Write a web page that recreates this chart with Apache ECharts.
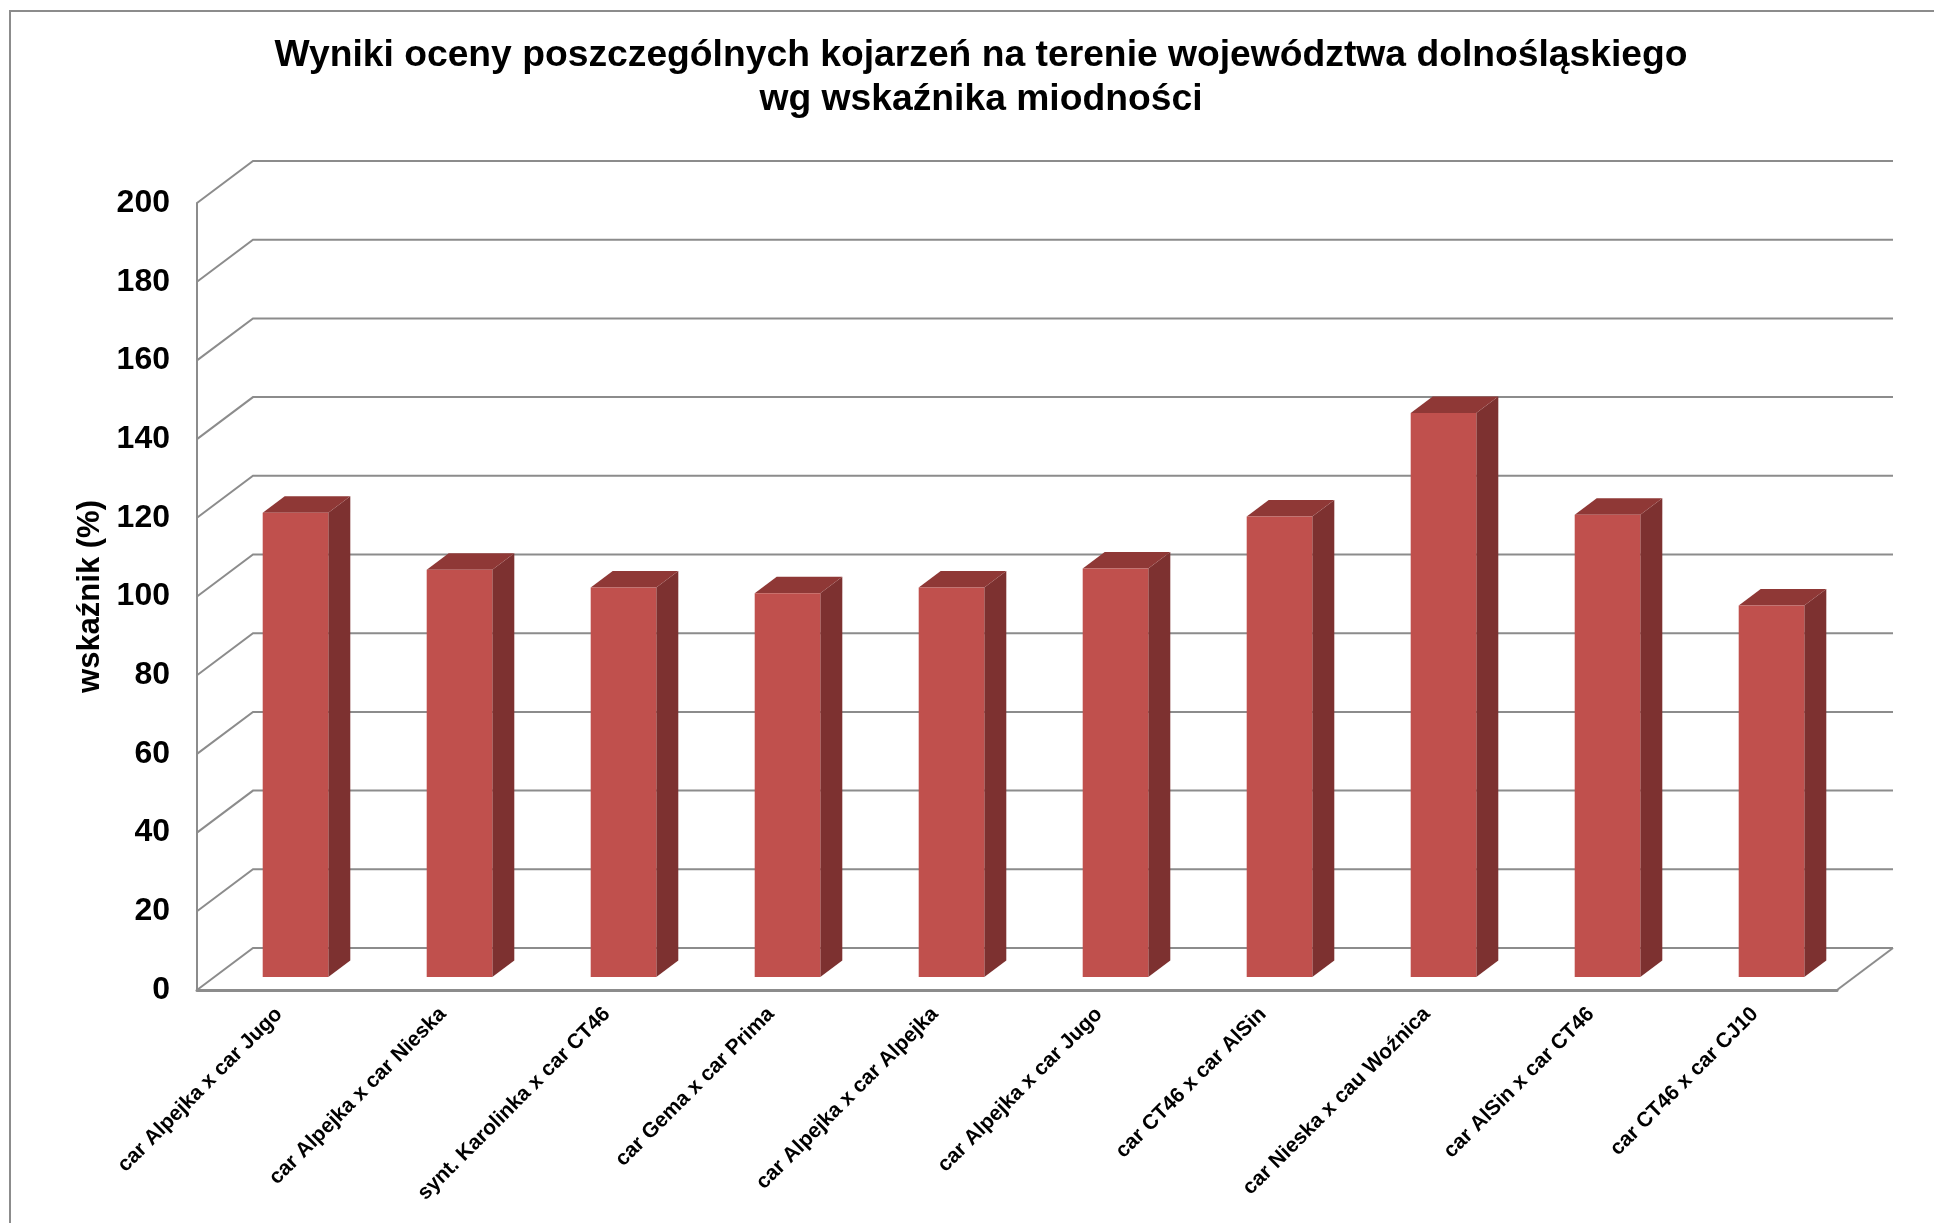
<!DOCTYPE html>
<html>
<head>
<meta charset="utf-8">
<title>wskaznik miodnosci</title>
<style>
  html, body { margin: 0; padding: 0; background: #fff; }
  #main { width: 1934px; height: 1223px; }
</style>
<script src="https://cdn.jsdelivr.net/npm/echarts@6/dist/echarts.min.js"></script>
</head>
<body>
<div id="main"></div>
<script>
const titleText = 'Wyniki oceny poszczególnych kojarzeń na terenie województwa dolnośląskiego\nwg wskaźnika miodności';
const yName = 'wskaźnik (%)';
const categories = [
  'car Alpejka x car Jugo',
  'car Alpejka x car Nieska',
  'synt. Karolinka x car CT46',
  'car Gema x car Prima',
  'car Alpejka x car Alpejka',
  'car Alpejka x car Jugo',
  'car CT46 x car AlSin',
  'car Nieska x cau Woźnica',
  'car AlSin x car CT46',
  'car CT46 x car CJ10'
];
const values = [118, 103.5, 99, 97.5, 99, 103.8, 117, 143.3, 117.5, 94.4];
const yTicks = [0, 20, 40, 60, 80, 100, 120, 140, 160, 180, 200];

const font = '"Liberation Sans", Arial, sans-serif';
const gridColor = '#8c8c8c';
// fake 3D: how far the back wall sits behind the axis plane, and the bars' own depth
const wallDx = 56, wallDy = -42;
const barShiftX = 16.5, barShiftY = -13;
const barDx = 22, barDy = -16.5;

const chart = echarts.init(document.getElementById('main'), null, { renderer: 'canvas' });

// back wall lines, with the slanted bit running back from the axis
function renderWall(params, api) {
  const rect = params.coordSys;
  const y = api.coord([0, api.value(1)])[1];
  const left = rect.x, right = rect.x + rect.width;
  const children = [{
    type: 'polyline',
    shape: { points: [[left, y], [left + wallDx, y + wallDy], [right + wallDx, y + wallDy]] },
    style: { stroke: gridColor, lineWidth: 2, fill: null }
  }];
  if (api.value(1) === 0) {
    children.push({
      type: 'line',
      shape: { x1: right, y1: y, x2: right + wallDx, y2: y + wallDy },
      style: { stroke: gridColor, lineWidth: 2 }
    });
  }
  return { type: 'group', children: children };
}

function renderBar(params, api) {
  const base = api.coord([api.value(0), 0]);
  const top = api.coord([api.value(0), api.value(1)]);
  const w = api.size([1, 0])[0] * 0.4;
  const x0 = base[0] + barShiftX - w / 2;
  const x1 = x0 + w;
  const y0 = base[1] + barShiftY;
  const y1 = top[1] + barShiftY;
  return {
    type: 'group',
    children: [
      {
        type: 'polygon',
        shape: { points: [[x1, y0], [x1 + barDx, y0 + barDy], [x1 + barDx, y1 + barDy], [x1, y1]] },
        style: { fill: '#7d3130' }
      },
      {
        type: 'polygon',
        shape: { points: [[x0, y1], [x1, y1], [x1 + barDx, y1 + barDy], [x0 + barDx, y1 + barDy]] },
        style: { fill: '#8f3836' }
      },
      {
        type: 'rect',
        shape: { x: x0, y: y1, width: w, height: y0 - y1 },
        style: { fill: '#c0504d' }
      }
    ]
  };
}

chart.setOption({
  backgroundColor: '#fff',
  animation: false,
  title: {
    text: titleText,
    left: 976,
    top: 29,
    textAlign: 'center',
    textStyle: { fontFamily: font, fontSize: 37.25, fontWeight: 'bold', color: '#000', lineHeight: 44 }
  },
  graphic: [{
    type: 'polyline',
    shape: { points: [[10, 1223], [10, 11], [1934, 11]] },
    style: { stroke: gridColor, lineWidth: 2, fill: null }
  }],
  grid: { left: 197, top: 203, width: 1640, height: 787 },
  xAxis: {
    type: 'category',
    data: categories,
    axisLine: { show: true, lineStyle: { color: gridColor, width: 3 } },
    axisTick: { show: false },
    axisLabel: {
      rotate: 45,
      interval: 0,
      margin: 21,
      fontFamily: font,
      fontSize: 21,
      fontWeight: 'bold',
      color: '#000'
    }
  },
  yAxis: {
    type: 'value',
    min: 0,
    max: 200,
    interval: 20,
    name: yName,
    nameLocation: 'middle',
    nameGap: 84,
    nameTextStyle: { fontFamily: font, fontSize: 31, fontWeight: 'bold', color: '#000' },
    axisLine: { show: true, lineStyle: { color: gridColor, width: 2 } },
    axisTick: { show: false },
    splitLine: { show: false },
    axisLabel: {
      margin: 27,
      padding: [8, 0, 0, 0],
      fontFamily: font,
      fontSize: 32,
      fontWeight: 'bold',
      color: '#000'
    }
  },
  series: [
    {
      type: 'custom',
      clip: false,
      z: 1,
      renderItem: renderWall,
      data: yTicks.map(t => [0, t]),
      encode: { x: 0, y: 1 }
    },
    {
      type: 'custom',
      clip: false,
      z: 2,
      renderItem: renderBar,
      data: values.map((v, i) => [i, v]),
      encode: { x: 0, y: 1 }
    }
  ]
});
</script>
</body>
</html>
